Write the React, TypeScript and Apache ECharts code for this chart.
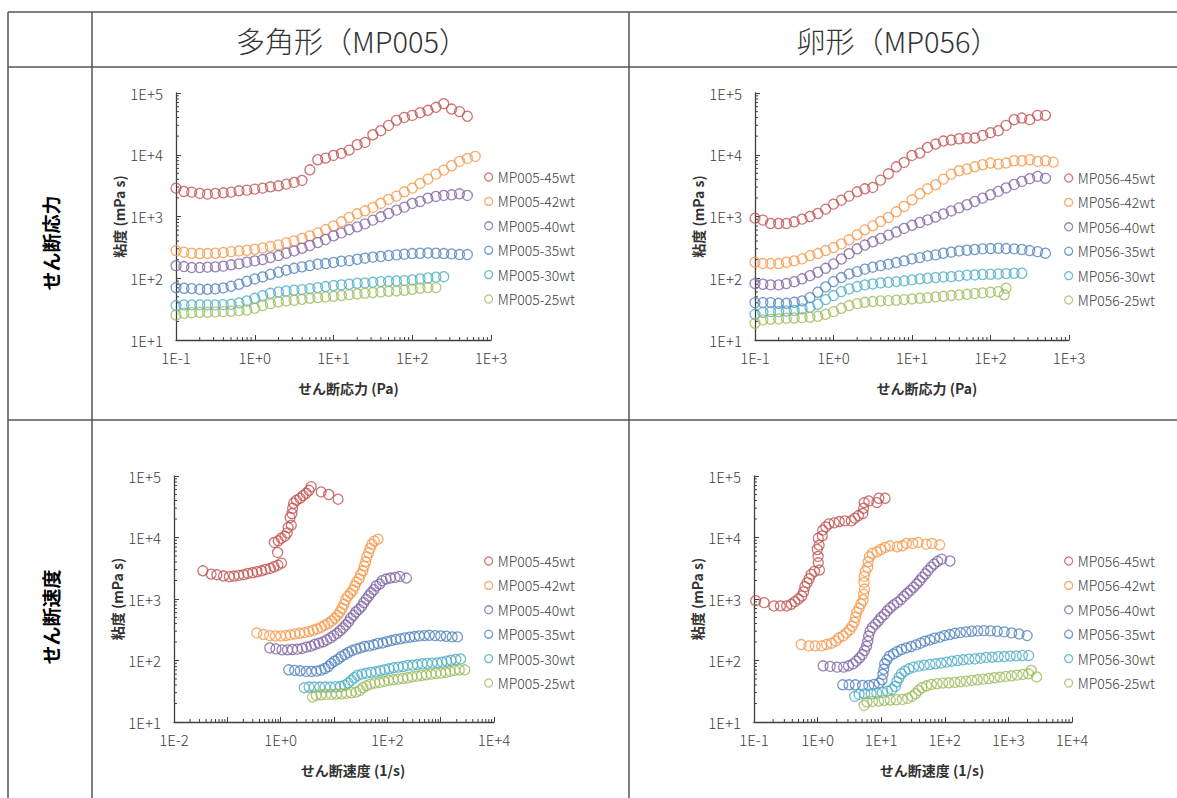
import React, { useEffect, useRef } from 'react';
import * as echarts from 'echarts';

// Shear stress steps (Pa), log-spaced
const STRESS = [0.1, 0.126, 0.158, 0.2, 0.251, 0.316, 0.398, 0.501, 0.631, 0.794, 1, 1.26, 1.58, 2, 2.51, 3.16, 3.98, 5.01, 6.31, 7.94, 10, 12.6, 15.8, 20, 25.1, 31.6, 39.8, 50.1, 63.1, 79.4, 100, 126, 158, 200, 251, 316, 398, 501, 631];
const MP056_25_STRESS = [0.1, 0.126, 0.158, 0.2, 0.251, 0.316, 0.398, 0.501, 0.631, 0.794, 1, 1.26, 1.58, 2, 2.51, 3.16, 3.98, 5.01, 6.31, 7.94, 10, 12.6, 15.8, 20, 25.1, 31.6, 39.8, 50.1, 63.1, 79.4, 100, 126, 158, 150];

// Viscosity (mPa s)
const MP005_45 = [2876, 2540, 2483, 2362, 2302, 2362, 2422, 2483, 2606, 2673, 2774, 2876, 3027, 3141, 3343, 3557, 3834, 5710, 8300, 8830, 9750, 10500, 11900, 14530, 15850, 21090, 24490, 29900, 36060, 40300, 43400, 48000, 52400, 58600, 67200, 55000, 50000, 42000];
const MP005_42 = [281, 264, 254, 251, 251, 254, 261, 270, 277, 284, 295, 310, 326, 347, 374, 403, 440, 486, 543, 615, 706, 820, 963, 1105, 1236, 1400, 1626, 1888, 2138, 2514, 2877, 3427, 4027, 4855, 5634, 6634, 7798, 8726, 9400];
const MP005_40 = [160, 154.5, 149, 149, 151, 153, 157, 165, 171, 182, 191, 201, 216, 233, 254, 277, 306, 339, 379, 424, 486, 543, 615, 680, 760, 873, 988, 1119, 1267, 1417, 1626, 1750, 1982, 2110, 2192, 2245, 2332, 2192];
const MP005_35 = [70.6, 68.9, 68, 66.3, 66.3, 67.1, 69.7, 74.1, 79.9, 89.3, 97.5, 105, 116, 125, 135, 145, 153, 160, 169, 173, 180, 189, 193, 203, 211, 219, 225, 233, 239, 245, 251, 254, 257, 254, 251, 248, 242, 242];
const MP005_30 = [36.1, 37, 37, 37, 37, 37, 37.4, 37.9, 39.8, 42.9, 47.4, 52.4, 57.1, 60, 62.3, 63.9, 65.5, 68, 70.6, 73.3, 76.1, 78, 79.9, 83, 84, 86, 88.3, 89.3, 90.5, 91.6, 94, 97.5, 101, 104, 106];
const MP005_25 = [25.4, 27.1, 27.7, 28.1, 28.1, 28.5, 28.8, 29.2, 29.9, 30.6, 32.6, 36.1, 38.8, 41.3, 42.9, 44, 45.6, 47.4, 48.6, 49.8, 51, 52.4, 54.3, 55.7, 57.1, 58.6, 60, 61.5, 62.3, 63.9, 66.3, 68.9, 70.6, 70.6];

const MP056_45 = [940, 873, 770, 770, 770, 820, 906, 1000, 1119, 1316, 1585, 1841, 2138, 2514, 2812, 2953, 3881, 4920, 6385, 7510, 9750, 10640, 13150, 14890, 16660, 17290, 18170, 18620, 18620, 20590, 22770, 24490, 29900, 36960, 39330, 36960, 43450, 43450];
const MP056_42 = [181.5, 173, 173, 173, 181.5, 191, 206, 233, 251, 281, 314, 360, 419, 505, 608, 706, 830, 963, 1191, 1452, 1862, 2333, 2812, 3266, 4029, 4856, 5505, 5860, 6385, 6885, 7330, 7060, 7330, 8000, 8000, 8300, 7800, 8000, 7600];
const MP056_40 = [82, 80, 78, 78, 82, 88, 98, 110, 125, 145, 170, 205, 250, 300, 345, 390, 440, 500, 560, 640, 720, 800, 880, 980, 1100, 1230, 1380, 1550, 1750, 1980, 2250, 2550, 2900, 3300, 3700, 4100, 4450, 4150];
const MP056_35 = [40.3, 40.3, 40.3, 39.3, 39.3, 40.8, 42.9, 48.6, 59.3, 72.3, 88.3, 102.6, 117.5, 128, 140, 151, 160, 169, 179.5, 191, 206, 216, 230, 239, 254, 264, 277, 284, 292, 299, 303, 306, 303, 299, 292, 281, 270, 254];
const MP056_30 = [26.1, 28.1, 28.8, 28.8, 29.5, 30.2, 31.8, 33.9, 37.9, 45.1, 52.4, 60.8, 67.1, 73.3, 78, 80.9, 84, 86, 88.3, 90.5, 94, 97.5, 100, 102.6, 105, 106, 109, 112, 113, 115, 116, 117.5, 119, 120.5, 120.5];
const MP056_25 = [18.6, 21.1, 21.6, 21.9, 22.5, 22.7, 23, 23.3, 24.2, 26.1, 28.8, 32.6, 36.1, 38.8, 40.8, 41.9, 42.9, 43.4, 44, 45.1, 46.2, 47.4, 48.6, 49.8, 51, 52.4, 53.7, 55, 56.4, 57.8, 59.3, 60.8, 68.9, 54];

const COLORS = ['#C0504D', '#F79646', '#8064A2', '#4F81BD', '#4BACC6', '#9BBB59'];
const NAMES_005 = ['MP005-45wt', 'MP005-42wt', 'MP005-40wt', 'MP005-35wt', 'MP005-30wt', 'MP005-25wt'];
const NAMES_056 = ['MP056-45wt', 'MP056-42wt', 'MP056-40wt', 'MP056-35wt', 'MP056-30wt', 'MP056-25wt'];
const VISC_005 = [MP005_45, MP005_42, MP005_40, MP005_35, MP005_30, MP005_25];
const VISC_056 = [MP056_45, MP056_42, MP056_40, MP056_35, MP056_30, MP056_25];
const STRESS_056 = [STRESS, STRESS, STRESS, STRESS, STRESS, MP056_25_STRESS];
const STRESS_005 = [STRESS, STRESS, STRESS, STRESS, STRESS, STRESS];

const HEADERS = ['多角形（MP005）', '卵形（MP056）'];
const ROW_LABELS = ['せん断応力', 'せん断速度'];
const Y_NAME = '粘度 (mPa s)';
const X_NAMES = ['せん断応力 (Pa)', 'せん断応力 (Pa)', 'せん断速度 (1/s)', 'せん断速度 (1/s)'];
// axis ranges [xMin, xMax] for each panel; y is always 1E+1 .. 1E+5
const X_RANGES = [[0.1, 1000], [0.1, 1000], [0.01, 10000], [0.1, 10000]];
const Y_RANGE = [10, 100000];

const FONT = "'Noto Sans CJK JP', 'Noto Sans', sans-serif";
const AXIS_COLOR = '#404040';
const LABEL_COLOR = '#404040';

const GRIDS = [
  { left: 176, top: 93, width: 315, height: 247 },
  { left: 755, top: 93, width: 314, height: 247 },
  { left: 174, top: 476, width: 320, height: 246 },
  { left: 754, top: 476, width: 318, height: 246 },
];
const NAME_SHIFT = [30, 30, 38, 38];
const LEGEND_POS = [
  { left: 479, top: 165 },
  { left: 1059, top: 166 },
  { left: 479, top: 549 },
  { left: 1059, top: 549 },
];

function expLabel(v: number): string {
  const e = Math.round(Math.log10(v));
  return '1E' + (e >= 0 ? '+' : '-') + Math.abs(e);
}

function minorTicks(min: number, max: number): number[] {
  const out: number[] = [];
  const e0 = Math.round(Math.log10(min));
  const e1 = Math.round(Math.log10(max));
  for (let e = e0; e < e1; e++) {
    for (let m = 2; m <= 9; m++) out.push(m * Math.pow(10, e));
  }
  return out;
}

function buildOption() {
  const series: any[] = [];
  const xAxis: any[] = [];
  const yAxis: any[] = [];
  const legend: any[] = [];

  for (let g = 0; g < 4; g++) {
    const is056 = g % 2 === 1;
    const isRate = g >= 2;
    const names = is056 ? NAMES_056 : NAMES_005;
    const visc = is056 ? VISC_056 : VISC_005;
    const stress = is056 ? STRESS_056 : STRESS_005;
    const [xMin, xMax] = X_RANGES[g];

    xAxis.push({
      type: 'log', logBase: 10, gridIndex: g, min: xMin, max: xMax,
      name: X_NAMES[g], nameLocation: 'middle', nameGap: 41,
      nameTextStyle: { fontFamily: FONT, fontSize: 14, fontWeight: 'bold', color: '#333', padding: [0, 0, 0, NAME_SHIFT[g]] },
      axisLine: { show: true, lineStyle: { color: AXIS_COLOR, width: 1.3 } },
      axisTick: { show: true, inside: true, length: 5, lineStyle: { color: AXIS_COLOR, width: 1 } },
      splitLine: { show: false },
      axisLabel: {
        margin: 10, fontFamily: FONT, fontSize: 15, fontWeight: 300, color: LABEL_COLOR,
        formatter: (v: number) => {
          if (g === 2) {
            const e = Math.round(Math.log10(v));
            if (Math.abs(e) % 2 === 1) return '';
          }
          return expLabel(v);
        },
      },
    });
    yAxis.push({
      type: 'log', logBase: 10, gridIndex: g, min: Y_RANGE[0], max: Y_RANGE[1],
      name: Y_NAME, nameLocation: 'middle', nameGap: 48, nameRotate: 90,
      nameTextStyle: { fontFamily: FONT, fontSize: 14, fontWeight: 'bold', color: '#333' },
      axisLine: { show: true, lineStyle: { color: AXIS_COLOR, width: 1.3 } },
      axisTick: { show: true, inside: true, length: 5, lineStyle: { color: AXIS_COLOR, width: 1 } },
      splitLine: { show: false },
      axisLabel: { margin: 13, fontFamily: FONT, fontSize: 15, fontWeight: 300, color: LABEL_COLOR, formatter: (v: number) => expLabel(v) },
    });

    legend.push({
      orient: 'vertical', left: LEGEND_POS[g].left, top: LEGEND_POS[g].top,
      itemWidth: 8, itemHeight: 8, itemGap: 10.4, icon: 'circle', selectedMode: false,
      data: names,
      textStyle: { fontFamily: FONT, fontSize: 14, fontWeight: 300, color: LABEL_COLOR },
      itemStyle: { borderWidth: 1.3 },
    });

    for (let s = 0; s < 6; s++) {
      const data = visc[s].map((eta, i) => {
        const tau = stress[s][i];
        // shear rate (1/s) = shear stress (Pa) / viscosity (Pa s)
        const x = isRate ? tau / (eta / 1000) : tau;
        return [x, eta];
      });
      series.push({
        type: 'scatter', name: names[s], xAxisIndex: g, yAxisIndex: g, data,
        symbol: 'circle', symbolSize: 10, silent: true,
        itemStyle: { color: 'rgba(255,255,255,0)', borderColor: COLORS[s], borderWidth: 1.3 },
        emphasis: { disabled: true },
      });
    }

    // minor tick marks at 2..9 x 10^k (Excel style)
    series.push({
      type: 'custom', xAxisIndex: g, yAxisIndex: g, silent: true, clip: false,
      data: minorTicks(xMin, xMax).map((v) => [v, Y_RANGE[0]]),
      renderItem: (params: any, api: any) => {
        const p = api.coord([api.value(0), api.value(1)]);
        return { type: 'line', shape: { x1: p[0], y1: p[1], x2: p[0], y2: p[1] - 3 }, style: { stroke: AXIS_COLOR, lineWidth: 1 } };
      },
    });
    series.push({
      type: 'custom', xAxisIndex: g, yAxisIndex: g, silent: true, clip: false,
      data: minorTicks(Y_RANGE[0], Y_RANGE[1]).map((v) => [xMin, v]),
      renderItem: (params: any, api: any) => {
        const p = api.coord([api.value(0), api.value(1)]);
        return { type: 'line', shape: { x1: p[0], y1: p[1], x2: p[0] + 3, y2: p[1] }, style: { stroke: AXIS_COLOR, lineWidth: 1 } };
      },
    });
  }

  const lineStyle = { stroke: '#555', lineWidth: 1.5 };
  const graphic: any[] = [
    { type: 'line', shape: { x1: 8, y1: 12, x2: 1177, y2: 12 }, style: lineStyle },
    { type: 'line', shape: { x1: 8, y1: 67, x2: 1177, y2: 67 }, style: lineStyle },
    { type: 'line', shape: { x1: 8, y1: 420, x2: 1177, y2: 420 }, style: lineStyle },
    { type: 'line', shape: { x1: 8, y1: 12, x2: 8, y2: 798 }, style: lineStyle },
    { type: 'line', shape: { x1: 92, y1: 12, x2: 92, y2: 798 }, style: lineStyle },
    { type: 'line', shape: { x1: 629, y1: 12, x2: 629, y2: 798 }, style: lineStyle },
    { type: 'text', x: 352, y: 40, style: { text: HEADERS[0], font: `300 29px ${FONT}`, fill: '#333', align: 'center', verticalAlign: 'middle' } },
    { type: 'text', x: 898, y: 40, style: { text: HEADERS[1], font: `300 29px ${FONT}`, fill: '#333', align: 'center', verticalAlign: 'middle' } },
    { type: 'text', x: 50, y: 243, rotation: Math.PI / 2, style: { text: ROW_LABELS[0], font: `bold 19px ${FONT}`, fill: '#000', align: 'center', verticalAlign: 'middle' } },
    { type: 'text', x: 50, y: 617, rotation: Math.PI / 2, style: { text: ROW_LABELS[1], font: `bold 19px ${FONT}`, fill: '#000', align: 'center', verticalAlign: 'middle' } },
  ];

  return {
    animation: false,
    backgroundColor: '#fff',
    grid: GRIDS.map((g) => ({ ...g, containLabel: false })),
    xAxis, yAxis, legend, series, graphic,
  };
}

export default function App() {
  const ref = useRef<HTMLDivElement>(null);
  useEffect(() => {
    if (!ref.current) return;
    const chart = echarts.init(ref.current, undefined, { renderer: 'svg' });
    chart.setOption(buildOption() as any);
    return () => chart.dispose();
  }, []);
  return <div ref={ref} style={{ position: 'absolute', left: 0, top: 0, width: 1177, height: 798 }} />;
}
